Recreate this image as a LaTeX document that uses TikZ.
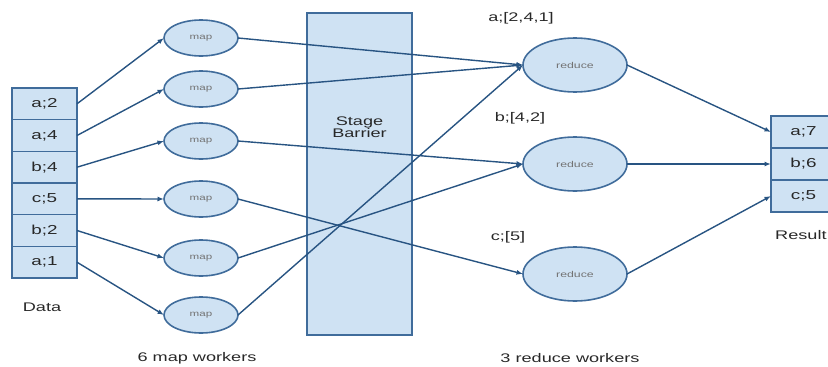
\documentclass[tikz,border=0pt]{standalone}
\usepackage{fontspec}
\setmainfont{Liberation Sans}[FakeStretch=1.45]
\usetikzlibrary{arrows.meta,shapes.geometric}
\definecolor{boxfill}{RGB}{207,226,243}
\definecolor{edgecol}{RGB}{64,108,155}
\definecolor{arrcol}{RGB}{40,84,130}
\definecolor{txt}{RGB}{40,40,40}
\definecolor{smalltxt}{RGB}{115,115,115}
\begin{document}
\begin{tikzpicture}[x=1pt,y=-1pt,
  cell/.style={draw=edgecol, fill=boxfill, line width=1.6pt, minimum width=65pt, minimum height=31.7pt, inner sep=0pt, outer sep=0pt, font=\fontsize{13}{14}\selectfont, text=txt},
  worker/.style={ellipse, draw=edgecol, fill=boxfill, line width=1.6pt, inner sep=0pt, outer sep=0pt, text=smalltxt},
  mapw/.style={worker, minimum width=74pt, minimum height=36pt, font=\fontsize{8}{9}\selectfont},
  redw/.style={worker, minimum width=104pt, minimum height=54pt, font=\fontsize{8.5}{9}\selectfont},
  barrierbox/.style={draw=edgecol, fill=boxfill, line width=1.6pt, minimum width=105pt, minimum height=322pt, inner sep=0pt, outer sep=0pt},
  lbl/.style={text=txt, font=\fontsize{12.5}{14}\selectfont, inner sep=0pt, align=center},
  flow/.style={draw=arrcol, line width=1.4pt, -{Latex[length=6.5pt,width=5pt]}}
]
\useasboundingbox (0,0) rectangle (828,367);
\clip (0,0) rectangle (828,367);

% data cells
\node[cell] (d1) at (44.5,103.8) {a;2};
\node[cell] (d2) at (44.5,135.5) {a;4};
\node[cell] (d3) at (44.5,167.2) {b;4};
\node[cell] (d4) at (44.5,198.8) {c;5};
\node[cell] (d5) at (44.5,230.5) {b;2};
\node[cell] (d6) at (44.5,262.2) {a;1};
\node[lbl] (datalbl) at (42,307) {Data};

% map workers
\node[mapw] (m1) at (201,38) {map};
\node[mapw] (m2) at (201,89) {map};
\node[mapw] (m3) at (201,141) {map};
\node[mapw] (m4) at (201,199) {map};
\node[mapw] (m5) at (201,258) {map};
\node[mapw] (m6) at (201,315) {map};
\node[lbl] (maplbl) at (197,358) {6 map workers};

% barrier
\node[barrierbox] (bar) at (359.5,174) {};
\node[lbl] (bartxt) at (359.5,127) {Stage\\[-2.5pt]Barrier};

% reduce workers
\node[redw] (r1) at (575,65) {reduce};
\node[redw] (r2) at (575,164) {reduce};
\node[redw] (r3) at (575,274) {reduce};
\node[lbl] (ka) at (521,18) {a;[2,4,1]};
\node[lbl] (kb) at (520,118) {b;[4,2]};
\node[lbl] (kc) at (508,237) {c;[5]};
\node[lbl] (redlbl) at (570,358) {3 reduce workers};

% result cells
\node[cell] (o1) at (803.5,132) {a;7};
\node[cell] (o2) at (803.5,164) {b;6};
\node[cell] (o3) at (803.5,196) {c;5};
\node[lbl, anchor=west] (reslbl) at (775,235) {Result};

% data -> map
\draw[flow] (d1.east) -- (m1.west);
\draw[flow] (d2.east) -- (m2.west);
\draw[flow] (d3.east) -- (m3.west);
\draw[flow] (d4.east) -- (m4.west);
\draw[flow] (d5.east) -- (m5.west);
\draw[flow] (d6.east) -- (m6.west);

% map -> reduce
\draw[flow] (m1.east) -- (r1.west);
\draw[flow] (m2.east) -- (r1.west);
\draw[flow] (m3.east) -- (r2.west);
\draw[flow] (m4.east) -- (r3.west);
\draw[flow] (m5.east) -- (r2.west);
\draw[flow] (m6.east) -- (r1.west);

% reduce -> result
\draw[flow] (r1.east) -- (o1.west);
\draw[flow] (r2.east) -- (o2.west);
\draw[flow] (r3.east) -- (o3.west);
\end{tikzpicture}
\end{document}
